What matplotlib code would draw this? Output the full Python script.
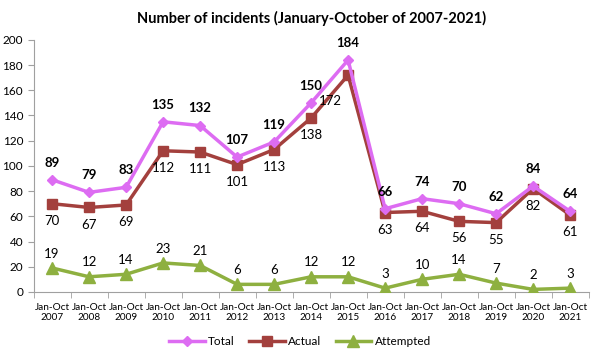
import matplotlib
matplotlib.use("Agg")
import matplotlib.pyplot as plt
import numpy as np

years = ["2007", "2008", "2009", "2010", "2011", "2012", "2013", "2014",
         "2015", "2016", "2017", "2018", "2019", "2020", "2021"]
tick_labels = ["Jan-Oct\n" + y for y in years]
total = [89, 79, 83, 135, 132, 107, 119, 150, 184, 66, 74, 70, 62, 84, 64]
actual = [70, 67, 69, 112, 111, 101, 113, 138, 172, 63, 64, 56, 55, 82, 61]
attempted = [19, 12, 14, 23, 21, 6, 6, 12, 12, 3, 10, 14, 7, 2, 3]

plt.rcParams['font.family'] = ['Lato', 'DejaVu Sans']

fig = plt.figure(figsize=(6, 3.56), dpi=100)
ax = fig.add_axes([0.056, 0.180, 0.925, 0.708])

x = np.arange(len(years))
c_total = "#DD6CF2"
c_actual = "#A3403D"
c_att = "#8EB040"

ax.plot(x, attempted, color=c_att, lw=2.5, marker="^", ms=8, label="Attempted", zorder=3)
ax.plot(x, actual, color=c_actual, lw=2.5, marker="s", ms=7.5, label="Actual", zorder=4)
ax.plot(x, total, color=c_total, lw=2.5, marker="D", ms=5, label="Total", zorder=5)

for i, v in enumerate(total):
    ax.annotate(str(v), (i, v), xytext=(0, 8), textcoords="offset points",
                ha="center", va="bottom", fontsize=9.5, fontweight="bold",
                color="black", zorder=7)
for i, v in enumerate(actual):
    dx = -13 if i == 8 else 0
    dy = -14 if i == 8 else -8
    ax.annotate(str(v), (i, v), xytext=(dx, dy), textcoords="offset points",
                ha="center", va="top", fontsize=9.5, color="black", zorder=7)
for i, v in enumerate(attempted):
    ax.annotate(str(v), (i, v), xytext=(0, 6), textcoords="offset points",
                ha="center", va="bottom", fontsize=9.5, color="black", zorder=7)

ax.set_xlim(-0.5, len(years) - 0.5)
ax.set_ylim(0, 200)
ax.set_yticks(range(0, 201, 20))
ax.set_xticks(x)
ax.set_xticklabels(tick_labels, fontsize=7.2)
ax.set_xticks(np.arange(-0.5, len(years), 1), minor=True)
ax.tick_params(axis="x", which="major", length=0, pad=8)
ax.tick_params(axis="x", which="minor", length=4, color="#A0A0A0")
ax.tick_params(axis="y", length=4, color="#A0A0A0", labelsize=8.5)
for s in ["top", "right"]:
    ax.spines[s].set_visible(False)
for s in ["left", "bottom"]:
    ax.spines[s].set_color("#A0A0A0")

ax.set_title("Number of incidents (January-October of 2007-2021)", fontsize=10.5,
             fontweight="bold", pad=12)

handles, labels = ax.get_legend_handles_labels()
order = [2, 1, 0]
fig.legend([handles[i] for i in order], [labels[i] for i in order],
           loc="center", bbox_to_anchor=(0.5, 0.04), ncol=3, frameon=False,
           fontsize=8.5, handlelength=3, columnspacing=1.2, handletextpad=0.3)

fig.savefig("out.png", dpi=100)
